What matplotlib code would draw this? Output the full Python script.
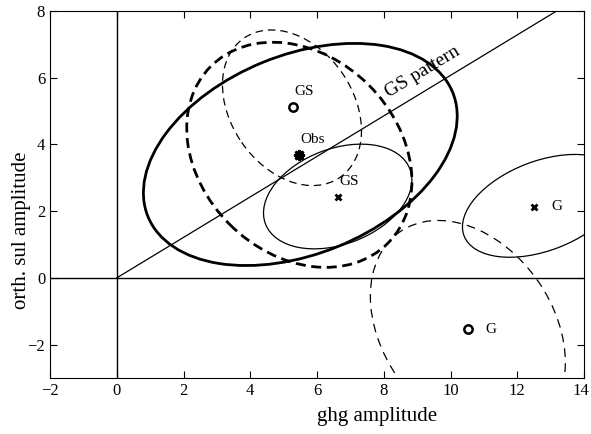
import numpy as np
import matplotlib
matplotlib.use("Agg")
import matplotlib.pyplot as plt
import matplotlib.transforms as mtransforms
from matplotlib.patches import Ellipse

plt.rcParams['font.family'] = ['Liberation Serif', 'DejaVu Serif']

# Ellipses: centre x, centre y, width, height, angle (deg)
ell_names = ["obs_thick", "obs_thick_dash", "gs_o_dash", "gs_x_solid", "g_x_solid", "g_o_dash"]
ell_cx = [5.50, 5.47, 5.25, 6.62, 12.75, 10.52]
ell_cy = [3.70, 3.69, 5.10, 2.44, 2.16, -1.54]
ell_w = [9.86, 7.50, 5.07, 4.63, 5.02, 7.12]
ell_h = [5.96, 5.90, 3.66, 2.86, 2.68, 5.10]
ell_ang = [22.2, -45.0, -55.5, 20.8, 21.0, -55.0]

# Points
pt_x = [5.28, 5.45, 6.62, 12.51, 10.52]
pt_y = [5.11, 3.68, 2.44, 2.13, -1.54]
pt_label = ["GS", "Obs", "GS", "G", "G"]
lab_x = [5.60, 5.87, 6.95, 13.20, 11.22]
lab_y = [5.60, 4.16, 2.90, 2.13, -1.54]

# GS pattern line
pattern_slope = 0.607
pattern_text = "GS pattern"
pattern_text_xy = (9.16, 6.17)

xticks = [-2, 0, 2, 4, 6, 8, 10, 12, 14]
yticks = [-2, 0, 2, 4, 6, 8]

fig = plt.figure(figsize=(5.91, 4.34), dpi=100)
ax = fig.add_axes([50/591, 1-378/434, 534/591, 367/434])

styles = [
    dict(lw=2.0, ls='-'),
    dict(lw=2.0, ls=(0, (3.6, 2.0))),
    dict(lw=0.9, ls=(0, (6, 4))),
    dict(lw=0.9, ls='-'),
    dict(lw=0.9, ls='-'),
    dict(lw=0.9, ls=(0, (7, 5))),
]
for cx, cy, w, h, a, st in zip(ell_cx, ell_cy, ell_w, ell_h, ell_ang, styles):
    e = Ellipse((cx, cy), w, h, angle=a, fill=False, edgecolor='black', **st)
    ax.add_patch(e)

ax.axhline(0, color='black', lw=1.0)
ax.axvline(0, color='black', lw=1.0)
xx = np.array([0, 16])
ax.plot(xx, pattern_slope * xx, color='black', lw=0.9)

# markers
ax.plot(pt_x[0], pt_y[0], marker='o', ms=6, mfc='white', mec='black', mew=1.8, ls='none')
ax.plot(pt_x[1], pt_y[1], marker=(8, 2, 0), ms=8, color='black', mew=2.0, ls='none')
ax.plot(pt_x[2], pt_y[2], marker='x', ms=4.5, color='black', mew=2.0, ls='none')
ax.plot(pt_x[3], pt_y[3], marker='x', ms=4.5, color='black', mew=2.0, ls='none')
ax.plot(pt_x[4], pt_y[4], marker='o', ms=6, mfc='white', mec='black', mew=1.8, ls='none')

for lx, ly, t in zip(lab_x, lab_y, pt_label):
    ax.text(lx, ly, t, fontsize=11, ha='center', va='center')

ang = np.degrees(np.arctan(pattern_slope))
ax.text(pattern_text_xy[0], pattern_text_xy[1], pattern_text, fontsize=14,
        rotation=ang, rotation_mode='anchor', ha='center', va='center')

ax.set_xlim(-2, 14)
ax.set_ylim(-3, 8)
ax.set_xticks(xticks)
ax.set_yticks(yticks)
ax.tick_params(direction='in', top=True, right=True, length=5, labelsize=12)
ax.set_xlabel("ghg amplitude", fontsize=15, va='center')
ax.set_ylabel("orth. sul amplitude", fontsize=15, va='center')
ax.xaxis.set_label_coords(0.612, -0.106)
ax.yaxis.set_label_coords(-0.054, 0.403)

# nudge the last x tick label so it stays inside the figure
fig.canvas.draw()
last = ax.get_xticklabels()[-1]
last.set_transform(last.get_transform() + mtransforms.ScaledTranslation(-3.5/100, 0, fig.dpi_scale_trans))

fig.savefig("out.png", dpi=100)
